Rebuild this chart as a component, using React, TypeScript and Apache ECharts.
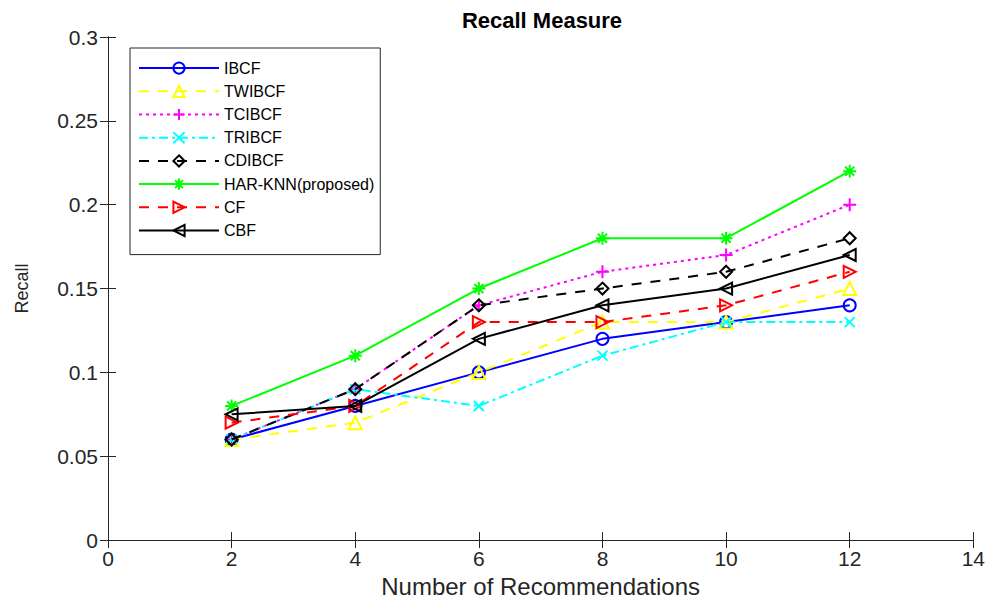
import React, { useEffect, useRef } from "react";
import * as echarts from "echarts";

const xValues = [2, 4, 6, 8, 10, 12];
const seriesNames = ["IBCF", "TWIBCF", "TCIBCF", "TRIBCF", "CDIBCF", "HAR-KNN(proposed)", "CF", "CBF"];
const ibcf = [0.06, 0.08, 0.1, 0.12, 0.13, 0.14];
const twibcf = [0.06, 0.07, 0.1, 0.13, 0.13, 0.15];
const tcibcf = [0.06, 0.09, 0.14, 0.16, 0.17, 0.2];
const tribcf = [0.06, 0.09, 0.08, 0.11, 0.13, 0.13];
const cdibcf = [0.06, 0.09, 0.14, 0.15, 0.16, 0.18];
const harknn = [0.08, 0.11, 0.15, 0.18, 0.18, 0.22];
const cf = [0.07, 0.08, 0.13, 0.13, 0.14, 0.16];
const cbf = [0.075, 0.08, 0.12, 0.14, 0.15, 0.17];
const allValues = [ibcf, twibcf, tcibcf, tribcf, cdibcf, harknn, cf, cbf];

const colors = ["#0000ff", "#ffff00", "#ff00ff", "#00ffff", "#000000", "#00ff00", "#ff0000", "#000000"];
const symbols = [
  "circle",
  "path://M5,0L10,9L0,9Z",
  "path://M0,5L10,5M5,0L5,10",
  "path://M0,0L10,10M10,0L0,10",
  "path://M5,0L10,5L5,10L0,5Z",
  "path://M0,5L10,5M5,0L5,10M1.5,1.5L8.5,8.5M8.5,1.5L1.5,8.5",
  "path://M0,0L10,5L0,10Z",
  "path://M10,0L0,5L10,10Z",
];
const dashes: any[] = ["solid", [10, 9], [3, 4], [9, 4, 3, 4], [10, 9], "solid", [10, 9], "solid"];
const symbolSizes = [12, 13, 13, 10, 12, 13, 12, 12];

export default function App() {
  const ref = useRef<HTMLDivElement>(null);
  useEffect(() => {
    const chart = echarts.init(ref.current!, undefined, { renderer: "svg" });
    const axisColor = "#262626";
    const font = "Liberation Sans, Arial, sans-serif";
    chart.setOption({
      animation: false,
      backgroundColor: "#ffffff",
      grid: { left: 108, right: 12, top: 37, bottom: 56 },
      graphic: [
        {
          type: "text",
          x: 542,
          y: 20,
          style: {
            text: "Recall Measure",
            textAlign: "center",
            textVerticalAlign: "middle",
            font: "bold 22px Liberation Sans, Arial, sans-serif",
            fill: "#000000",
          },
        },
      ],
      legend: {
        orient: "vertical",
        left: 130,
        top: 48,
        data: seriesNames,
        backgroundColor: "#ffffff",
        borderColor: axisColor,
        borderWidth: 1,
        borderRadius: 0,
        padding: [12, 6, 16, 8],
        itemWidth: 80,
        itemHeight: 14,
        itemGap: 7,
        textStyle: { fontSize: 16, color: "#000000", fontFamily: font },
      },
      xAxis: [
        {
          type: "value",
          min: 0,
          max: 14,
          interval: 2,
          name: "Number of Recommendations",
          nameLocation: "middle",
          nameGap: 33,
          nameTextStyle: { fontSize: 24, color: axisColor, fontFamily: font },
          axisLine: { show: true, lineStyle: { color: axisColor, width: 1 } },
          axisTick: { show: true, inside: true, length: 8, lineStyle: { color: axisColor } },
          axisLabel: { fontSize: 21, color: axisColor, margin: 8, fontFamily: font },
          splitLine: { show: false },
        },
        {
          type: "value",
          position: "top",
          min: 0,
          max: 14,
          interval: 2,
          axisLine: { show: true, lineStyle: { color: axisColor, width: 1 } },
          axisTick: { show: true, inside: true, length: 8, lineStyle: { color: axisColor } },
          axisLabel: { show: false },
          splitLine: { show: false },
        },
      ],
      yAxis: [
        {
          type: "value",
          min: 0,
          max: 0.3,
          interval: 0.05,
          name: "Recall",
          nameLocation: "middle",
          nameGap: 77,
          nameTextStyle: { fontSize: 18, color: axisColor, fontFamily: font },
          axisLine: { show: true, lineStyle: { color: axisColor, width: 1 } },
          axisTick: { show: true, inside: true, length: 8, lineStyle: { color: axisColor } },
          axisLabel: { fontSize: 21, color: axisColor, margin: 10, fontFamily: font },
          splitLine: { show: false },
        },
        {
          type: "value",
          position: "right",
          min: 0,
          max: 0.3,
          interval: 0.05,
          axisLine: { show: true, lineStyle: { color: axisColor, width: 1 } },
          axisTick: { show: true, inside: true, length: 8, lineStyle: { color: axisColor } },
          axisLabel: { show: false },
          splitLine: { show: false },
        },
      ],
      series: seriesNames.map((name, i) => ({
        name,
        type: "line",
        xAxisIndex: 0,
        yAxisIndex: 0,
        data: xValues.map((x, j) => [x, allValues[i][j]]),
        color: colors[i],
        symbol: symbols[i],
        symbolSize: symbolSizes[i],
        showAllSymbol: true,
        lineStyle: { color: colors[i], width: 2, type: dashes[i] },
        itemStyle: { color: "none", borderColor: colors[i], borderWidth: 2 },
        emphasis: { disabled: true },
        z: 2 + i,
      })),
    });
    return () => chart.dispose();
  }, []);
  return (
    <div
      ref={ref}
      style={{ position: "fixed", left: 0, top: 0, width: 988, height: 603 }}
    />
  );
}
